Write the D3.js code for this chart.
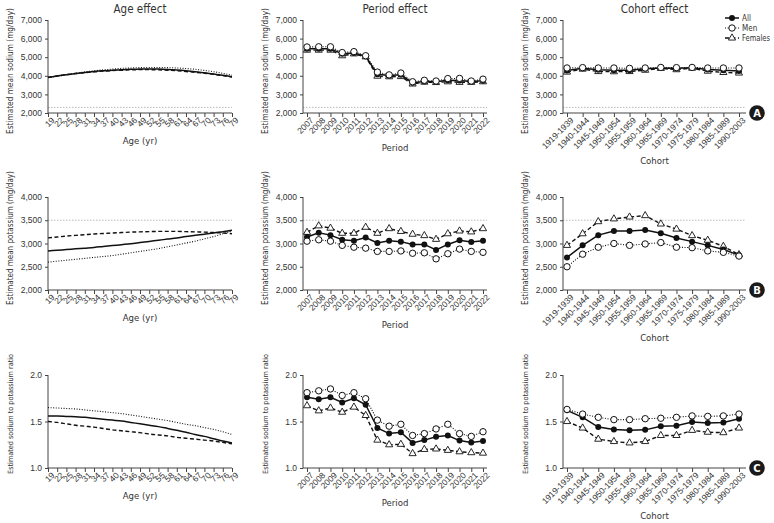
<!DOCTYPE html>
<html lang="en">
<head>
  <meta charset="UTF-8">
  <title>Age, period and cohort effects</title>
  <script src="https://d3js.org/d3.v7.min.js"></script>
  <style>
    body { margin: 0; background: #fff; }
    .axis path, .axis line { stroke: #444; }
    .axis text { fill: #333; }
    .title { fill: #333; }
    .ylab, .xlab { fill: #333; }
  </style>
</head>
<body>
  <svg width="774" height="523"></svg>
  <script>
    // x categories / tick labels
    const ages = [19, 22, 25, 28, 31, 34, 37, 40, 43, 46, 49, 52, 55, 58, 61, 64, 67, 70, 73, 76, 79];
    const periods = ["2007","2008","2009","2010","2011","2012","2013","2014","2015","2016","2017","2018","2019","2020","2021","2022"];
    const cohorts = ["1919-1939","1940-1944","1945-1949","1950-1954","1955-1959","1960-1964","1965-1969","1970-1974","1975-1979","1980-1984","1985-1989","1990-2003"];

    // sodium (mg/day)
    const naAgeAll = [3920,3990,4060,4120,4180,4230,4270,4300,4330,4350,4360,4370,4360,4340,4310,4270,4220,4160,4100,4030,3950];
    const naAgeMen = [3900,3980,4060,4140,4210,4270,4320,4360,4400,4420,4440,4450,4450,4440,4420,4390,4350,4290,4220,4130,4030];
    const naAgeFem = [3910,3990,4060,4120,4170,4210,4250,4280,4300,4320,4330,4330,4320,4300,4270,4230,4190,4140,4080,4010,3930];
    const naPerAll = [5450,5450,5450,5180,5220,5050,4080,4020,4050,3620,3700,3680,3760,3750,3700,3730];
    const naPerMen = [5550,5560,5560,5250,5300,5080,4200,4050,4150,3680,3760,3720,3850,3860,3720,3820];
    const naPerFem = [5380,5380,5380,5080,5180,5020,3980,3950,3960,3560,3660,3640,3680,3650,3650,3680];
    const naCohAll = [4280,4400,4320,4300,4300,4380,4420,4400,4430,4340,4300,4260];
    const naCohMen = [4420,4440,4420,4420,4400,4420,4450,4440,4450,4420,4420,4420];
    const naCohFem = [4200,4360,4230,4220,4230,4300,4400,4330,4410,4250,4180,4150];

    // potassium (mg/day)
    const kAgeAll = [2840,2855,2870,2885,2900,2915,2935,2955,2975,2995,3020,3045,3070,3095,3120,3150,3175,3200,3225,3255,3285];
    const kAgeMen = [2600,2620,2640,2660,2680,2700,2720,2740,2770,2800,2830,2860,2890,2930,2970,3010,3050,3100,3150,3210,3270];
    const kAgeFem = [3120,3140,3160,3175,3190,3205,3215,3225,3235,3245,3250,3255,3260,3260,3260,3255,3250,3245,3235,3225,3210];
    const kPerAll = [3140,3230,3180,3080,3060,3130,3010,3060,3040,2980,2980,2860,2980,3070,3030,3060];
    const kPerMen = [3050,3080,3050,2960,2920,2900,2830,2830,2840,2790,2800,2670,2780,2880,2830,2810];
    const kPerFem = [3240,3380,3330,3220,3220,3350,3220,3320,3260,3200,3170,3090,3210,3270,3250,3320];
    const kCohAll = [2700,2960,3180,3270,3270,3290,3220,3120,3040,2960,2870,2750];
    const kCohMen = [2500,2770,2920,3000,2960,2990,3020,2920,2910,2840,2810,2730];
    const kCohFem = [2960,3210,3470,3530,3570,3600,3420,3310,3170,3070,2940,2760];

    // sodium to potassium ratio
    const rAgeAll = [1.56,1.56,1.555,1.55,1.545,1.535,1.525,1.515,1.505,1.49,1.475,1.46,1.445,1.425,1.405,1.385,1.36,1.34,1.315,1.29,1.27];
    const rAgeMen = [1.65,1.645,1.64,1.635,1.625,1.615,1.605,1.595,1.585,1.57,1.555,1.54,1.525,1.51,1.49,1.47,1.455,1.435,1.415,1.39,1.36];
    const rAgeFem = [1.50,1.49,1.475,1.46,1.45,1.44,1.425,1.41,1.40,1.39,1.38,1.365,1.355,1.345,1.33,1.32,1.31,1.30,1.29,1.275,1.26];
    const rPerAll = [1.76,1.74,1.76,1.705,1.75,1.68,1.43,1.37,1.385,1.27,1.30,1.335,1.35,1.295,1.275,1.29];
    const rPerMen = [1.81,1.83,1.85,1.78,1.81,1.745,1.515,1.45,1.47,1.35,1.37,1.42,1.47,1.37,1.34,1.39];
    const rPerFem = [1.67,1.615,1.645,1.60,1.655,1.565,1.30,1.25,1.255,1.155,1.20,1.205,1.19,1.175,1.165,1.16];
    const rCohAll = [1.62,1.545,1.44,1.415,1.405,1.41,1.45,1.455,1.495,1.485,1.49,1.53];
    const rCohMen = [1.63,1.58,1.545,1.52,1.52,1.53,1.535,1.545,1.56,1.555,1.56,1.58];
    const rCohFem = [1.50,1.43,1.31,1.285,1.27,1.285,1.35,1.35,1.405,1.385,1.38,1.43];

    const naTicks = [2000, 3000, 4000, 5000, 6000, 7000];
    const kTicks = [2000, 2500, 3000, 3500, 4000];
    const rTicks = [1.0, 1.5, 2.0];
    const colTitles = ["Age effect", "Period effect", "Cohort effect"];
    const xLabels = ["Age (yr)", "Period", "Cohort"];
    const yLabels = ["Estimated mean sodium (mg/day)", "Estimated mean potassium (mg/day)", "Estimated sodium to potassium ratio"];
    const badges = ["A", "B", "C"];
    const legendNames = ["All", "Men", "Females"];

    // pick a condensed face if one is installed
    function hasFont(name) {
      const ctx = document.createElement("canvas").getContext("2d");
      const s = "Estimated mean sodium 1919-1939";
      ctx.font = "20px monospace";
      const base = ctx.measureText(s).width;
      ctx.font = `20px '${name}', monospace`;
      return ctx.measureText(s).width !== base;
    }
    const narrow = ["Liberation Sans Narrow", "DejaVu Sans Condensed"].find(hasFont);
    const fontFam = narrow ? `'${narrow}', sans-serif` : "Roboto, sans-serif";
    const fs = narrow ? 1 : 0.9;

    const svg = d3.select("svg").style("font-family", fontFam);
    const colX = [48, 303, 563];
    const colW = [184, 184, 183];
    const rowY = [20, 197, 375];
    const plotH = 93;
    const xLabOff = [31, 38, 51];
    const yLabMid = [71, 238, 414];
    const yLabMax = [126, 134, 120];

    const rows = [
      { ticks: naTicks, dom: [2000, 7000], fmt: d3.format(","), ref: 2300,
        data: [[naAgeAll, naAgeMen, naAgeFem], [naPerAll, naPerMen, naPerFem], [naCohAll, naCohMen, naCohFem]] },
      { ticks: kTicks, dom: [2000, 4000], fmt: d3.format(","), ref: 3500,
        data: [[kAgeAll, kAgeMen, kAgeFem], [kPerAll, kPerMen, kPerFem], [kCohAll, kCohMen, kCohFem]] },
      { ticks: rTicks, dom: [1, 2], fmt: d3.format(".1f"), ref: null,
        data: [[rAgeAll, rAgeMen, rAgeFem], [rPerAll, rPerMen, rPerFem], [rCohAll, rCohMen, rCohFem]] }
    ];

    const dashes = [null, "1,1.6", "4,2.5"];
    const widths = [1.5, 1.1, 1.4];

    rows.forEach((row, r) => {
      for (let c = 0; c < 3; c++) {
        const g = svg.append("g").attr("transform", `translate(${colX[c]},${rowY[r]})`);
        const w = colW[c];
        const y = d3.scaleLinear().domain(row.dom).range([plotH, 0]);
        let x, cats;
        if (c === 0) {
          x = d3.scaleLinear().domain([19, 79]).range([0, w]);
          cats = ages;
        } else if (c === 1) {
          cats = periods;
          x = d3.scalePoint().domain(cats).range([4, w - 4]);
        } else {
          cats = cohorts;
          x = d3.scalePoint().domain(cats).range([4, w - 7]);
        }

        // reference line
        if (row.ref !== null) {
          g.append("line")
            .attr("x1", 0).attr("x2", w)
            .attr("y1", y(row.ref)).attr("y2", y(row.ref))
            .attr("stroke", "#aaa").attr("stroke-width", 0.8)
            .attr("stroke-dasharray", "1.5,1.5");
        }

        // axes
        g.append("g").attr("class", "axis")
          .call(d3.axisLeft(y).tickValues(row.ticks).tickFormat(row.fmt).tickSize(3).tickPadding(3))
          .call(a => a.select(".domain").attr("d", `M0,0V${plotH}`))
          .call(a => a.selectAll("text").style("font-size", 8.5 * fs + "px"));

        const xa = g.append("g").attr("class", "axis")
          .attr("transform", `translate(0,${plotH})`)
          .call((c === 0 ? d3.axisBottom(x).tickValues(ages).tickFormat(d3.format("d"))
                         : d3.axisBottom(x)).tickSize(4).tickSizeOuter(0).tickPadding(2))
          .call(a => a.select(".domain").attr("d", `M0,0H${w}`));
        xa.selectAll("text")
          .style("font-size", 8.5 * fs + "px")
          .attr("text-anchor", "end")
          .attr("dx", "-0.1em").attr("dy", "0.5em")
          .attr("transform", "rotate(-45)");

        // series: draw Females, All, Men
        [2, 0, 1].forEach(s => {
          const vals = row.data[c][s];
          const pts = vals.map((v, i) => ({ x: cats[i], v }));
          const line = d3.line().x(d => x(d.x)).y(d => y(d.v));
          if (c === 0) line.curve(d3.curveMonotoneX);
          g.append("path").datum(pts)
            .attr("d", line)
            .attr("fill", "none").attr("stroke", "#111")
            .attr("stroke-width", widths[s])
            .attr("stroke-dasharray", dashes[s]);
          if (c > 0) {
            drawMarkers(g, pts, s, d => x(d.x), d => y(d.v));
          }
        });

        // column titles
        if (r === 0) {
          svg.append("text").attr("class", "title")
            .style("font-size", 11.5 * fs + "px")
            .attr("x", colX[c] + w / 2).attr("y", 13)
            .attr("text-anchor", "middle").text(colTitles[c]);
        }
        // x label
        svg.append("text").attr("class", "xlab")
          .style("font-size", 9.5 * fs + "px")
          .attr("x", colX[c] + w / 2).attr("y", rowY[r] + plotH + xLabOff[c])
          .attr("text-anchor", "middle").text(xLabels[c]);
        // y label, shrunk to fit the reference's span
        const yl = svg.append("text").attr("class", "ylab")
          .style("font-size", "9.5px")
          .attr("transform", `translate(${colX[c] - 35},${yLabMid[r]}) rotate(-90)`)
          .attr("text-anchor", "middle").text(yLabels[r]);
        const len = yl.node().getComputedTextLength();
        if (len > yLabMax[r]) yl.style("font-size", (9.5 * yLabMax[r] / len).toFixed(2) + "px");
      }

      // panel badge
      const b = svg.append("g").attr("transform", `translate(757,${rowY[r] + plotH})`);
      b.append("circle").attr("r", 7.8).attr("fill", "#1a1a1a");
      b.append("text").attr("text-anchor", "middle").attr("dy", "0.36em")
        .attr("fill", "#fff").style("font-size", "10px").style("font-weight", "bold")
        .style("font-family", "DejaVu Sans, sans-serif").text(badges[r]);
    });

    function drawMarkers(g, pts, s, fx, fy) {
      if (s === 0) {
        g.selectAll(null).data(pts).enter().append("circle")
          .attr("cx", fx).attr("cy", fy).attr("r", 3)
          .attr("fill", "#111");
      } else if (s === 1) {
        g.selectAll(null).data(pts).enter().append("circle")
          .attr("cx", fx).attr("cy", fy).attr("r", 3.2)
          .attr("fill", "#fff").attr("stroke", "#111").attr("stroke-width", 1);
      } else {
        const tri = d3.symbol().type(d3.symbolTriangle).size(22);
        g.selectAll(null).data(pts).enter().append("path")
          .attr("d", tri)
          .attr("transform", d => `translate(${fx(d)},${fy(d)})`)
          .attr("fill", "#fff").attr("stroke", "#111").attr("stroke-width", 0.9);
      }
    }

    // legend
    const lg = svg.append("g").attr("transform", "translate(725,18)");
    legendNames.forEach((name, s) => {
      const row = lg.append("g").attr("transform", `translate(0,${s * 10})`);
      row.append("line").attr("x1", 0).attr("x2", 14)
        .attr("stroke", "#111").attr("stroke-width", widths[s])
        .attr("stroke-dasharray", dashes[s]);
      drawMarkers(row, [{}], s, () => 7, () => 0);
      const t = row.append("text").attr("x", 17).attr("dy", "0.35em")
        .style("font-size", 8 * fs + "px").attr("fill", "#333").text(name);
      if (t.node().getComputedTextLength() > 28) {
        t.attr("textLength", 28).attr("lengthAdjust", "spacingAndGlyphs");
      }
    });
  </script>
</body>
</html>
